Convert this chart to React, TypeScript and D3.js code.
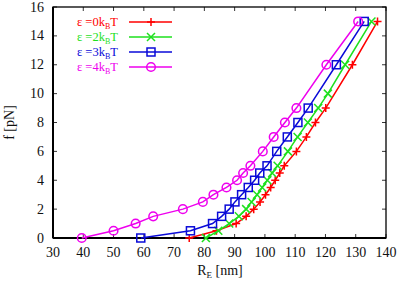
import React from 'react';
import * as d3 from 'd3';

const forces = [0, 0.5, 1, 1.5, 2, 2.5, 3, 3.5, 4, 4.5, 5, 6, 7, 8, 9, 12, 15];
const forcesGreen = [0, 0.5, 1, 1.5, 2, 2.5, 3, 3.5, 4, 4.5, 5, 6, 7, 8, 9, 10, 12, 15];

const ext0 = [75, 84, 90.5, 93.8, 96.3, 98.4, 100.2, 101.9, 103.4, 104.9, 106.4, 110.4, 113.7, 116.7, 120.1, 128.9, 137.2];
const ext2 = [80.5, 84.6, 88.2, 91.4, 93.8, 95.6, 97.4, 99.1, 100.8, 102.4, 104.2, 107.6, 110.8, 114.2, 117.6, 120.8, 126.5, 135.2];
const ext3 = [59, 75.4, 82.7, 85.7, 88.2, 90.1, 92.3, 94.5, 96.6, 98.3, 100.7, 103.9, 107.4, 110.9, 114.3, 123.6, 132.8];
const ext4 = [39.5, 50, 57.3, 63.1, 72.9, 79.5, 83, 87.3, 90.8, 92.8, 95.2, 99.3, 102.9, 106.6, 110.4, 120.3, 130.8];

const xTicks = [30, 40, 50, 60, 70, 80, 90, 100, 110, 120, 130, 140];
const yTicks = [0, 2, 4, 6, 8, 10, 12, 14, 16];
const epsLabels = ['0', '2', '3', '4'];

type Mark = 'plus' | 'cross' | 'square' | 'circle';

const series = [
  { eps: epsLabels[0], xs: ext0, ys: forces, color: '#ff0000', mark: 'plus' as Mark },
  { eps: epsLabels[1], xs: ext2, ys: forcesGreen, color: '#1ee01e', mark: 'cross' as Mark },
  { eps: epsLabels[2], xs: ext3, ys: forces, color: '#0a0ad8', mark: 'square' as Mark },
  { eps: epsLabels[3], xs: ext4, ys: forces, color: '#ee00ee', mark: 'circle' as Mark },
];

const W = 415;
const H = 286;
const margin = { top: 7, right: 29, bottom: 48, left: 53 };

function Marker({ type, x, y, color }: { type: Mark; x: number; y: number; color: string }) {
  const s = 4;
  if (type === 'plus') {
    return <path d={`M${x - s},${y}H${x + s}M${x},${y - s}V${y + s}`} stroke={color} strokeWidth={1.5} fill="none" />;
  }
  if (type === 'cross') {
    return <path d={`M${x - s},${y - s}L${x + s},${y + s}M${x - s},${y + s}L${x + s},${y - s}`} stroke={color} strokeWidth={1.5} fill="none" />;
  }
  if (type === 'square') {
    return <rect x={x - 4} y={y - 4} width={8} height={8} stroke={color} strokeWidth={1.5} fill="none" />;
  }
  return <circle cx={x} cy={y} r={4.3} stroke={color} strokeWidth={1.5} fill="none" />;
}

export default function App() {
  const x = d3.scaleLinear().domain([30, 140]).range([margin.left, W - margin.right]);
  const y = d3.scaleLinear().domain([0, 16]).range([H - margin.bottom, margin.top]);
  const line = d3.line<[number, number]>().x(d => x(d[0])).y(d => y(d[1]));
  const font = "Tinos, 'Liberation Serif', 'DejaVu Serif', 'Noto Serif', 'Times New Roman', Times, serif";
  const x0 = x(30), x1 = x(140), y0 = y(0), y1 = y(16);

  return (
    <svg width={W} height={H} style={{ position: 'absolute', left: 0, top: 0, background: '#fff' }}>
      <g style={{ fontFamily: font }}>
        {/* ticks, inward on all four sides */}
        {xTicks.map(t => (
          <g key={'xt' + t}>
            <line x1={x(t)} x2={x(t)} y1={y0} y2={y0 - 4} stroke="#000" strokeWidth={0.8} />
            <line x1={x(t)} x2={x(t)} y1={y1} y2={y1 + 4} stroke="#000" strokeWidth={0.8} />
            <text x={x(t)} y={y0 + 19} textAnchor="middle" fontSize={14} fill="#111">{t}</text>
          </g>
        ))}
        {yTicks.map(t => (
          <g key={'yt' + t}>
            <line x1={x0} x2={x0 + 4} y1={y(t)} y2={y(t)} stroke="#000" strokeWidth={0.8} />
            <line x1={x1} x2={x1 - 4} y1={y(t)} y2={y(t)} stroke="#000" strokeWidth={0.8} />
            <text x={x0 - 9} y={y(t) + 4.5} textAnchor="end" fontSize={14} fill="#111">{t}</text>
          </g>
        ))}
        <rect x={x0} y={y1} width={x1 - x0} height={y0 - y1} fill="none" stroke="#000" strokeWidth={1.3} />
        <line x1={x0} x2={x1} y1={y0} y2={y0} stroke="#000" strokeWidth={2} />
        <line x1={x0} x2={x0} y1={y0} y2={y1} stroke="#000" strokeWidth={2} />

        {/* data */}
        {series.map(s => {
          const pts = s.xs.map((v, i) => [v, s.ys[i]] as [number, number]);
          return (
            <g key={s.eps}>
              <path d={line(pts) || ''} fill="none" stroke={s.color} strokeWidth={1.5} />
              {pts.map((p, i) => (
                <Marker key={i} type={s.mark} x={x(p[0])} y={y(p[1])} color={s.color} />
              ))}
            </g>
          );
        })}

        {/* legend */}
        {series.map((s, i) => {
          const ly = 22 + i * 15;
          return (
            <g key={'lg' + s.eps}>
              <text x={77} y={ly + 4} fontSize={12.5} fill={s.color}>
                {'\u03b5 ='}{s.eps}k<tspan fontSize={8} dy={3}>B</tspan><tspan dy={-3}>T</tspan>
              </text>
              <line x1={129} x2={172} y1={ly} y2={ly} stroke={s.color} strokeWidth={1.5} />
              <Marker type={s.mark} x={151} y={ly} color={s.color} />
            </g>
          );
        })}

        {/* axis labels */}
        <text x={220} y={275} textAnchor="middle" fontSize={14} fill="#111">
          R<tspan fontSize={9} dy={3}>E</tspan><tspan dy={-3}> [nm]</tspan>
        </text>
        <text transform={`translate(14,${(y0 + y1) / 2}) rotate(-90)`} textAnchor="middle" fontSize={14} fill="#111">
          f [pN]
        </text>
      </g>
    </svg>
  );
}
